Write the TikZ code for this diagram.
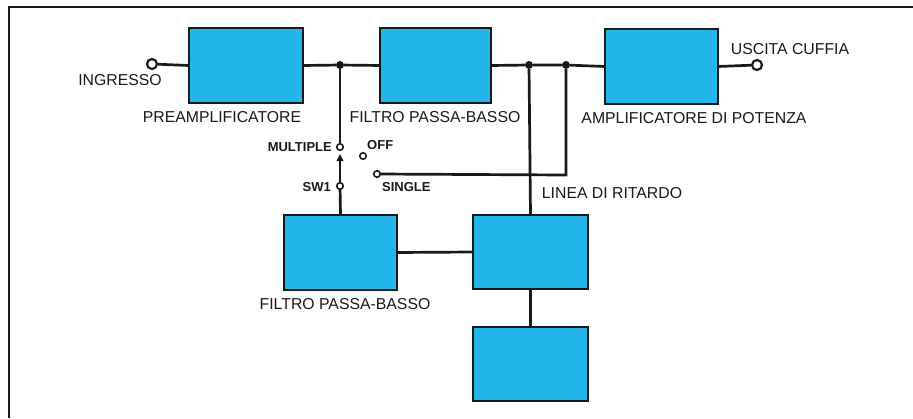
\documentclass[tikz,border=0pt]{standalone}
\usepackage{fontspec}
\setmainfont{Liberation Sans}
\usetikzlibrary{arrows.meta}
\definecolor{boxcyan}{RGB}{34,182,234}
\definecolor{ink}{RGB}{25,25,25}
\tikzset{
  blk/.style={draw=ink, line width=2.5pt, fill=boxcyan, inner sep=0pt, outer sep=0pt},
  wire/.style={draw=ink, line width=2.7pt},
  lbl/.style={font=\fontsize{15.8}{18}\selectfont, text=ink, inner sep=0pt},
  slbl/.style={font=\fontsize{13}{15}\bfseries\selectfont, text=ink, inner sep=0pt},
  term/.style={circle, draw=ink, line width=2.2pt, fill=white, minimum size=10pt, inner sep=0pt},
  cont/.style={circle, draw=ink, line width=1.6pt, fill=white, minimum size=6.5pt, inner sep=0pt},
  jdot/.style={circle, fill=ink, minimum size=8pt, inner sep=0pt},
}
\begin{document}
\begin{tikzpicture}[x=1pt,y=-1pt]
\useasboundingbox (0,0) rectangle (913,418);
\fill[white] (0,0) rectangle (913,418);
% frame
\draw[ink, line width=1.8pt] (9,418) -- (9,7) -- (913,7);

% blocks
\node[blk, minimum width=114pt, minimum height=75pt] (pre) at (246,65.5) {};
\node[blk, minimum width=111pt, minimum height=75pt] (f1) at (435.5,65.5) {};
\node[blk, minimum width=113pt, minimum height=75pt] (amp) at (661.5,66.5) {};
\node[blk, minimum width=113pt, minimum height=75pt] (f2) at (340.5,252.5) {};
\node[blk, minimum width=115pt, minimum height=74pt] (d1) at (530.5,252) {};
\node[blk, minimum width=115pt, minimum height=74pt] (d2) at (530.5,364) {};

% terminals and junctions
\node[term] (in) at (152,64) {};
\node[term] (out) at (757,65) {};
\node[jdot] (j1) at (340,65) {};
\node[jdot] (j2) at (529,65) {};
\node[jdot] (j3) at (566,65) {};
\coordinate (corner) at (566,175);

% switch contacts
\coordinate (mult) at (340,147);
\coordinate (sw1) at (340,186);
\coordinate (single) at (377,174);
\coordinate (blade) at (340,154);

% wires
\draw[wire] (in) -- (pre.west);
\draw[wire] (pre.east) -- (j1) -- (f1.west);
\draw[wire] (f1.east) -- (j2) -- (j3) -- (amp.west);
\draw[wire] (amp.east) -- (out);
\draw[wire] (j1) -- (mult);
\draw[wire] (sw1) -- (f2.north);
\draw[wire] (j2) -- (d1.north);
\draw[wire] (j3) -- (corner) -- (single);
\draw[wire] (f2.east) -- (d1.west);
\draw[wire] (d1.south) -- (d2.north);
\draw[ink, line width=2.2pt, -{Triangle[length=7pt,width=6.5pt]}] (sw1) -- (blade);
\node[cont] (csw1) at (sw1) {};
\node[cont] (cmult) at (mult) {};
\node[cont] (csingle) at (single) {};
\node[cont] (off) at (363,156) {};

% labels
\node[lbl] (tin) at (120,80) {INGRESSO};
\node[lbl] (tpre) at (222,117) {PREAMPLIFICATORE};
\node[lbl] (tf1) at (435,117) {FILTRO PASSA-BASSO};
\node[lbl] (tamp) at (694,118) {AMPLIFICATORE DI POTENZA};
\node[lbl] (tout) at (790,49) {USCITA CUFFIA};
\node[lbl] (tdel) at (612,193) {LINEA DI RITARDO};
\node[lbl] (tf2) at (345,304) {FILTRO PASSA-BASSO};
\node[slbl, anchor=east] (tmult) at (332,147) {MULTIPLE};
\node[slbl, anchor=east] (tsw) at (331,187) {SW1};
\node[slbl, anchor=west] (toff) at (367,145) {OFF};
\node[slbl, anchor=west] (tsing) at (382,187) {SINGLE};
\end{tikzpicture}
\end{document}
